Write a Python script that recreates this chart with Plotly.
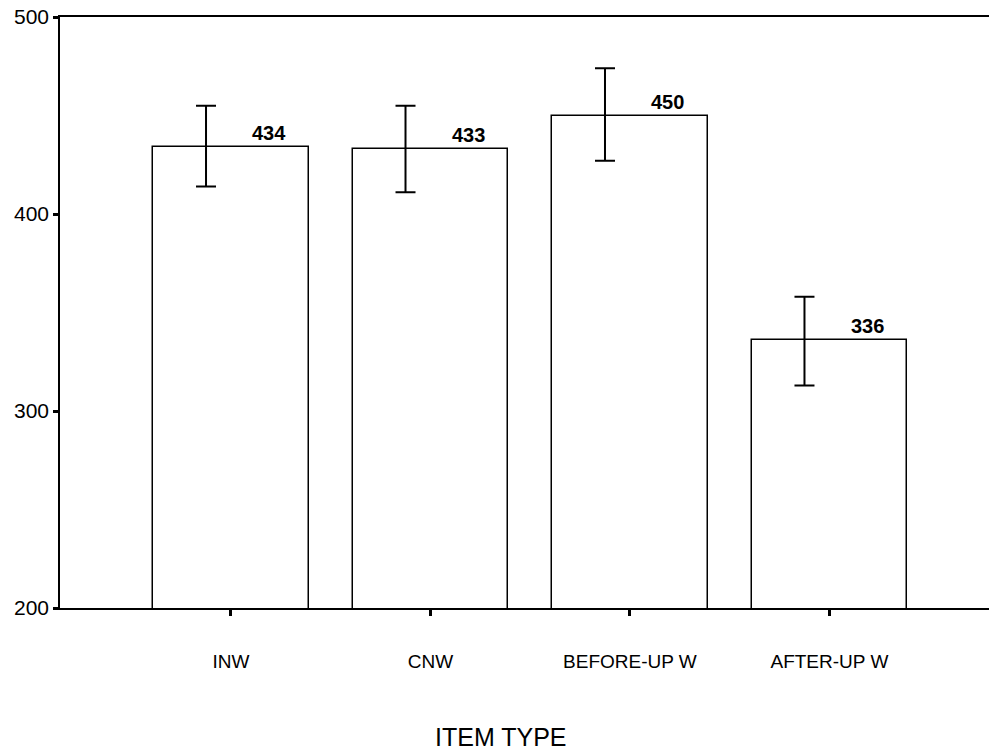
import plotly.graph_objects as go

categories = ["INW", "CNW", "BEFORE-UP W", "AFTER-UP W"]
means = [434, 433, 450, 336]
err_plus = [21, 22, 24, 22]
err_minus = [20, 22, 23, 23]
value_labels = ["434", "433", "450", "336"]
y_ticks = [200, 300, 400, 500]

xpos = list(range(len(categories)))
err_offset = -0.125
label_offset = 0.19

FONT = "Liberation Sans, Arial, sans-serif"

fig = go.Figure()
fig.add_trace(go.Bar(
    x=xpos, y=means, width=0.78,
    marker=dict(color="white", line=dict(color="black", width=1.5)),
    showlegend=False, hoverinfo="skip",
))
fig.add_trace(go.Scatter(
    x=[p + err_offset for p in xpos], y=means, mode="markers",
    marker=dict(size=1, color="rgba(0,0,0,0)"),
    error_y=dict(type="data", symmetric=False, array=err_plus, arrayminus=err_minus,
                 color="black", thickness=2, width=10),
    showlegend=False, hoverinfo="skip",
))

for p, m, t in zip(xpos, means, value_labels):
    fig.add_annotation(x=p + label_offset, y=m, text="<b>%s</b>" % t, showarrow=False,
                       yanchor="bottom", yshift=1,
                       font=dict(family=FONT, size=20, color="black"))

fig.add_annotation(xref="paper", yref="paper", x=0.475, y=-0.218, text="ITEM TYPE",
                   showarrow=False, xanchor="center", yanchor="middle",
                   font=dict(family=FONT, size=25, color="black"))

fig.update_xaxes(
    range=[-0.857, 3.8], tickvals=xpos, ticktext=categories,
    showline=True, linecolor="black", linewidth=1.5, mirror=True,
    ticks="outside", ticklen=6, tickwidth=3, tickcolor="black",
    ticklabelstandoff=29, showgrid=False, zeroline=False, automargin=False,
    tickfont=dict(family=FONT, size=19, color="black"),
)
fig.update_yaxes(
    range=[200, 500], tickvals=y_ticks,
    showline=True, linecolor="black", linewidth=1.5,
    ticks="outside", ticklen=5, tickwidth=3, tickcolor="black",
    showgrid=False, zeroline=False, automargin=False,
    tickfont=dict(family=FONT, size=21, color="black"),
)
fig.update_layout(
    width=989, height=754,
    margin=dict(l=60, r=0, t=17, b=146),
    plot_bgcolor="white", paper_bgcolor="white",
    bargap=0,
)
fig.write_html(
    "out.html",
    config={"displayModeBar": False},
    post_script="document.body.style.margin='0';document.body.style.overflow='hidden';",
)
